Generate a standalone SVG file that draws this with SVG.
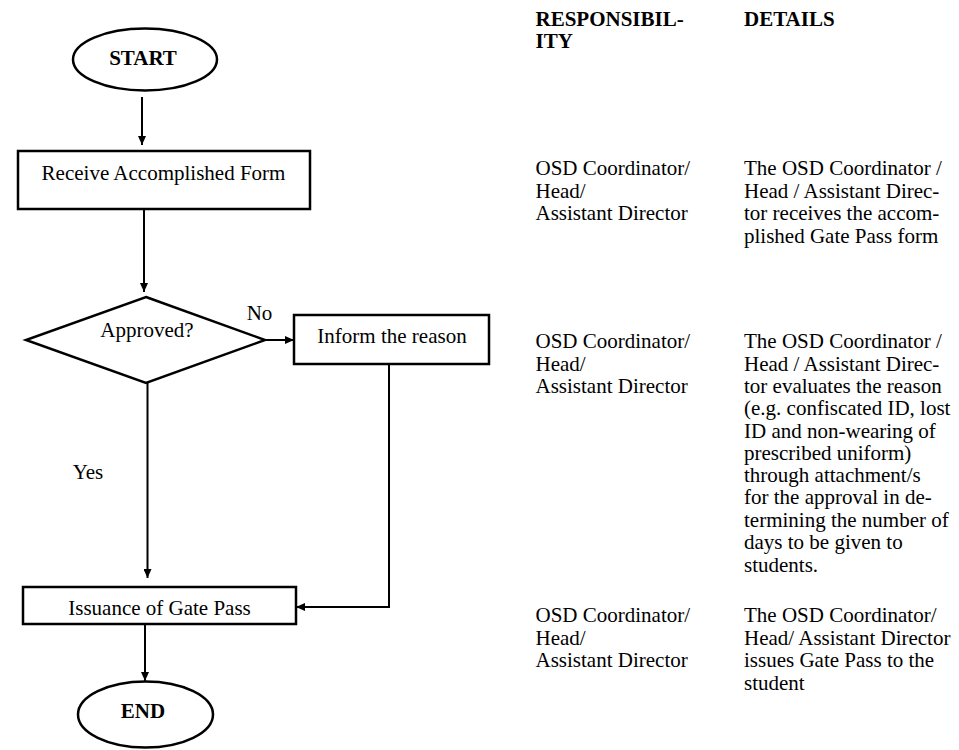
<svg xmlns="http://www.w3.org/2000/svg" width="959" height="750" viewBox="0 0 959 750">
<style>
.shape{fill:#fff;stroke:#000;stroke-width:2.5}
.conn{fill:none;stroke:#000;stroke-width:2}
text{font-family:"Liberation Serif","Times New Roman",serif;font-size:21px;fill:#000}
.b{font-weight:bold}
.c{text-anchor:middle}
</style>
<defs>
<marker id="arr" markerUnits="userSpaceOnUse" markerWidth="9" markerHeight="8" refX="9" refY="4" orient="auto">
<path d="M0,0 L9,4 L0,8 z" fill="#000"/>
</marker>
</defs>
<rect width="959" height="750" fill="#fff"/>
<g id="connectors">
<line class="conn" x1="142" y1="97" x2="142" y2="145" marker-end="url(#arr)"/>
<line class="conn" x1="144" y1="209" x2="144" y2="292" marker-end="url(#arr)"/>
<line class="conn" x1="265" y1="340" x2="294" y2="340" marker-end="url(#arr)"/>
<line class="conn" x1="147.5" y1="383" x2="147.5" y2="578" marker-end="url(#arr)"/>
<polyline class="conn" points="389,364 389,607 296,607" marker-end="url(#arr)"/>
<line class="conn" x1="145" y1="624" x2="145" y2="681" marker-end="url(#arr)"/>
</g>
<g id="start">
<ellipse class="shape" cx="145" cy="59.5" rx="72" ry="31"/>
<text class="b c" x="143" y="65">START</text>
</g>
<g id="receive">
<rect class="shape" x="18" y="151" width="292" height="58"/>
<text class="c" x="163.5" y="180">Receive Accomplished Form</text>
</g>
<g id="approved">
<polygon class="shape" points="146,297 265,340 146,383 26,340"/>
<text class="c" x="147" y="337">Approved?</text>
</g>
<g id="inform">
<rect class="shape" x="294" y="315" width="195" height="49"/>
<text class="c" x="392" y="343">Inform the reason</text>
</g>
<g id="issuance">
<rect class="shape" x="23" y="587" width="273" height="37"/>
<text class="c" x="159.5" y="615">Issuance of Gate Pass</text>
</g>
<g id="end">
<ellipse class="shape" cx="145.5" cy="714.5" rx="67.5" ry="33"/>
<text class="b c" x="143" y="718">END</text>
</g>
<g id="labels">
<text class="c" x="259.5" y="320">No</text>
<text class="c" x="88" y="479">Yes</text>
</g>
<g id="table">
<text class="b" x="535.5" y="26">RESPONSIBIL-</text>
<text class="b" x="535.5" y="48">ITY</text>
<text class="b" x="744" y="26">DETAILS</text>
<text x="535.5" y="175">OSD Coordinator/</text>
<text x="535.5" y="197.5">Head/</text>
<text x="535.5" y="220">Assistant Director</text>
<text x="744" y="175">The OSD Coordinator /</text>
<text x="744" y="197.5">Head / Assistant Direc-</text>
<text x="744" y="220">tor receives the accom-</text>
<text x="744" y="242.5">plished Gate Pass form</text>
<text x="535.5" y="348">OSD Coordinator/</text>
<text x="535.5" y="370.5">Head/</text>
<text x="535.5" y="393">Assistant Director</text>
<text x="744" y="348">The OSD Coordinator /</text>
<text x="744" y="370.5">Head / Assistant Direc-</text>
<text x="744" y="393">tor evaluates the reason</text>
<text x="744" y="415">(e.g. confiscated ID, lost</text>
<text x="744" y="437.5">ID and non-wearing of</text>
<text x="744" y="459.5">prescribed uniform)</text>
<text x="744" y="482">through attachment/s</text>
<text x="744" y="504">for the approval in de-</text>
<text x="744" y="526.5">termining the number of</text>
<text x="744" y="549">days to be given to</text>
<text x="744" y="571.5">students.</text>
<text x="535.5" y="622">OSD Coordinator/</text>
<text x="535.5" y="644.5">Head/</text>
<text x="535.5" y="667">Assistant Director</text>
<text x="744" y="622">The OSD Coordinator/</text>
<text x="744" y="644.5">Head/ Assistant Director</text>
<text x="744" y="667">issues Gate Pass to the</text>
<text x="744" y="689.5">student</text>
</g>
</svg>
